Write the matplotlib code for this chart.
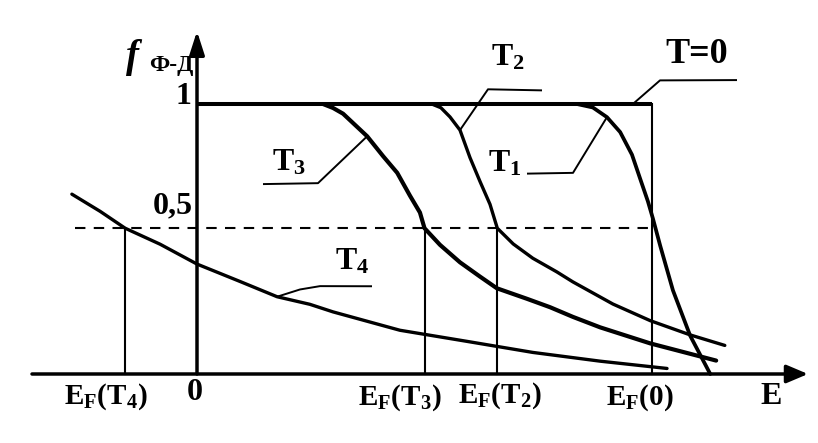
import numpy as np
import matplotlib
matplotlib.use("Agg")
import matplotlib.pyplot as plt

# energy in units of E_F(0), occupation f between 0 and 1
EF_T4 = -0.158
EF_T3 = 0.50
EF_T2 = 0.66
EF_0 = 1.0
F_HALF = 0.5

e_t1 = [0.835, 0.870, 0.901, 0.930, 0.956, 0.974, 0.991, 1.002, 1.018,
        1.046, 1.084, 1.128]
f_t1 = [1.0, 0.986, 0.947, 0.887, 0.796, 0.699, 0.608, 0.539, 0.440,
        0.287, 0.131, 0.0]

e_t2 = [0.516, 0.536, 0.556, 0.578, 0.600, 0.622, 0.644, 0.660, 0.695,
        0.738, 0.791, 0.826, 0.914, 0.996, 1.084, 1.160]
f_t2 = [1.0, 0.985, 0.948, 0.895, 0.784, 0.688, 0.596, 0.500, 0.446,
        0.397, 0.350, 0.316, 0.240, 0.183, 0.134, 0.098]

e_t3 = [0.277, 0.299, 0.321, 0.374, 0.409, 0.440, 0.468, 0.490, 0.500,
        0.534, 0.578, 0.622, 0.659, 0.725, 0.776, 0.826, 0.886, 0.996,
        1.141]
f_t3 = [1.0, 0.984, 0.961, 0.870, 0.790, 0.723, 0.631, 0.563, 0.500,
        0.443, 0.383, 0.334, 0.294, 0.258, 0.229, 0.196, 0.160, 0.105,
        0.046]

e_t4 = [-0.275, -0.213, -0.158, -0.081, 0.0, 0.095, 0.176, 0.248, 0.299,
        0.446, 0.593, 0.738, 0.886, 1.033]
f_t4 = [0.637, 0.568, 0.500, 0.445, 0.377, 0.317, 0.265, 0.239, 0.213,
        0.150, 0.112, 0.074, 0.044, 0.019]

W, H = 818, 443
X0, XS = 197, 455   # pixel of E=0, pixels per unit of E
Y0, YS = 374, 270   # pixel of f=0, pixels per drawn unit of f

FONT = "Liberation Serif"


# the drawing is not to scale: the 0,5 line sits a bit above half height
def fwd(f):
    f = np.asarray(f, dtype=float)
    return np.where(f <= 0.5, f * 1.08, 0.54 + (f - 0.5) * 0.92)


def inv(d):
    d = np.asarray(d, dtype=float)
    return np.where(d <= 0.54, d / 1.08, 0.5 + (d - 0.54) / 0.92)


def pix(x, y):
    """picture pixel -> data coords (the scan is tilted about 1 degree)"""
    y = y - (0.0169 * (x - 32) + 370 - Y0)
    return (x - X0) / XS, float(inv((Y0 - y) / YS))


def label(ax, x, y, s, size=23, **kw):
    ax.text(*pix(x, y), s, ha="center", va="center", fontsize=size,
            fontfamily=FONT, fontweight="bold", **kw)


def leader(ax, pts):
    xs = [p[0] for p in pts]
    ys = [p[1] for p in pts]
    ax.plot(xs, ys, color="black", lw=1.4, solid_capstyle="butt")


def main():
    plt.rcParams["mathtext.fontset"] = "custom"
    plt.rcParams["mathtext.rm"] = FONT + ":bold"
    plt.rcParams["mathtext.it"] = FONT + ":bold"
    plt.rcParams["mathtext.bf"] = FONT + ":bold"

    fig = plt.figure(figsize=(W / 100, H / 100), dpi=100)
    ax = fig.add_axes([0, 0, 1, 1])
    ax.set_yscale("function", functions=(fwd, inv))
    ax.set_xlim(-X0 / XS, (W - X0) / XS)
    ax.set_ylim(float(inv((Y0 - H) / YS)), float(inv(Y0 / YS)))
    ax.axis("off")

    # axes with arrows
    xa0 = pix(32, 370)[0]
    xa1 = pix(808, 384)[0]
    ya1 = pix(200, 30)[1]
    ax.annotate("", xy=(xa1, 0), xytext=(xa0, 0),
                arrowprops=dict(arrowstyle="-|>,head_length=13,head_width=5.5",
                                mutation_scale=1, lw=2.5, color="black",
                                shrinkA=0, shrinkB=0))
    ax.annotate("", xy=(0, ya1), xytext=(0, 0),
                arrowprops=dict(arrowstyle="-|>,head_length=14,head_width=4.5",
                                mutation_scale=1, lw=2.5, color="black",
                                shrinkA=0, shrinkB=0))

    # T = 0 step
    ax.plot([0, EF_0], [1, 1], color="black", lw=2.9, solid_capstyle="butt")
    ax.plot([EF_0, EF_0], [1, 0], color="black", lw=1.5)

    # half level and Fermi energies
    ax.plot([pix(75, 225)[0], EF_0], [F_HALF, F_HALF], color="black",
            lw=1.5, dashes=(5, 4))
    for ef in (EF_T4, EF_T3, EF_T2):
        ax.plot([ef, ef], [F_HALF, 0], color="black", lw=1.5)

    # distribution curves
    for e, f, w in ((e_t1, f_t1, 2.7), (e_t2, f_t2, 2.4),
                    (e_t3, f_t3, 3.0), (e_t4, f_t4, 2.4)):
        ax.plot(e, f, color="black", lw=w, solid_joinstyle="round",
                solid_capstyle="round")

    # leaders
    leader(ax, [pix(263, 184), pix(318, 184), (e_t3[3], f_t3[3])])
    leader(ax, [pix(542, 95), pix(488, 93), (e_t2[3], f_t2[3])])
    leader(ax, [pix(527, 178), pix(573, 178), (e_t1[2], f_t1[2])])
    leader(ax, [pix(737, 88), pix(660, 87), (0.958, 1.0)])
    leader(ax, [pix(372, 288), pix(320, 287), pix(300, 290),
                (e_t4[6], f_t4[6])])

    # texts
    label(ax, 132, 55, "f", size=28, fontstyle="italic")
    label(ax, 171, 64, "Ф-Д", size=17)
    label(ax, 183, 95, "1")
    label(ax, 173, 204, "0,5")
    label(ax, 289, 163, "T$_3$")
    label(ax, 508, 62, "T$_2$")
    label(ax, 505, 168, "T$_1$")
    label(ax, 697, 62, "T=0", size=26)
    label(ax, 352, 263, "T$_4$")
    label(ax, 106, 394, "E$_\\mathrm{F}$(T$_4$)", size=21)
    label(ax, 195, 391, "0")
    label(ax, 400, 400, "E$_\\mathrm{F}$(T$_3$)", size=21)
    label(ax, 500, 400, "E$_\\mathrm{F}$(T$_2$)", size=21)
    label(ax, 640, 404, "E$_\\mathrm{F}$(0)", size=21)
    label(ax, 771, 405, "E", size=23)

    fig.savefig("out.png", dpi=100, facecolor="white")
    plt.close(fig)


if __name__ == "__main__":
    main()
